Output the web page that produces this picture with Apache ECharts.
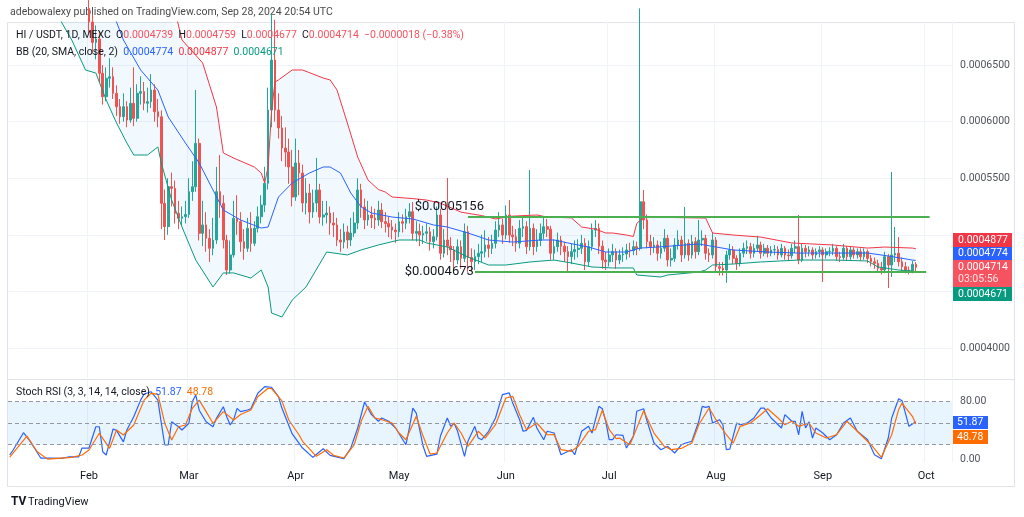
<!DOCTYPE html>
<html lang="en">
<head>
<meta charset="UTF-8">
<title>HI / USDT, 1D, MEXC</title>
<script src="https://cdn.jsdelivr.net/npm/echarts@6/dist/echarts.min.js"></script>
<style>
  html, body { margin: 0; padding: 0; background: #fff; }
  #main { width: 1024px; height: 517px; }
</style>
</head>
<body>
<div id="main"></div>
<script>
// axis: one category per day, 2024-01-09 .. 2024-10-08
var firstDay = Date.UTC(2024, 0, 9);
var dayCount = 274;
var monthNames = ['Jan', 'Feb', 'Mar', 'Apr', 'May', 'Jun', 'Jul', 'Aug', 'Sep', 'Oct', 'Nov', 'Dec'];

// price ticks (x1e-7)
var priceTicks = [4000, 4500, 5000, 5500, 6000, 6500];
var priceLabels = [4000, 5500, 6000, 6500];
var stochLabels = [0, 80];
var stochBands = [20, 50, 80];

// daily candles [open, close, low, high], price x1e-7
var ohlc = [
  [8800,8600,8400,9100],[8600,8400,8200,8800],[8400,8900,8300,9200],[8900,8500,8300,9000],[8500,8200,8000,8600],
  [8200,8000,7800,8400],[8000,7800,7600,8100],[7800,8100,7700,8300],[8100,7900,7700,8200],[7900,7600,7500,8000],
  [7600,7700,7450,7900],[7700,7400,7300,7800],[7400,7300,7100,7500],[7300,7500,7200,7700],[7500,7200,7050,7600],
  [7200,7100,7000,7400],[7100,7300,7050,7450],[7300,7000,6950,7350],[7000,6950,6900,7150],[6950,7100,6920,7250],
  [7100,6900,6900,7200],[6900,7050,6890,7150],[7050,7000,6900,7200],[7000,6880,6780,7100],[6880,6700,6600,6950],
  [6700,6730,6550,6850],[6730,6427,6350,6800],[6427,6220,6150,6500],[6220,6383,6180,6480],[6383,6397,6300,6560],
  [6397,6250,6200,6480],[6250,6132,6050,6320],[6132,6043,5980,6200],[6043,6132,6000,6250],[6132,6014,5950,6180],
  [6014,6162,5990,6300],[6162,6029,5960,6480],[6029,6250,6000,6330],[6250,6265,6150,6400],[6265,6162,6100,6350],
  [6162,6176,6080,6300],[6176,6279,6120,6420],[6279,6087,6000,6330],[6087,6043,5950,6200],[6043,5278,5050,6100],
  [5278,5072,4954,5400],[5072,5425,5000,5500],[5425,5410,5250,5550],[5410,5190,5100,5480],[5190,5146,5050,5300],
  [5146,5160,5080,5250],[5160,5180,5100,5300],[5180,5381,5150,5500],[5381,5425,5300,5650],[5425,5808,5380,6279],
  [5808,5013,4950,5850],[5013,5087,4900,5300],[5087,4969,4850,5200],[4969,4881,4760,5050],[4881,4954,4820,5150],
  [4954,5381,4920,5600],[5381,5278,5150,5705],[5278,4954,4880,5350],[4954,4689,4645,5000],[4689,4822,4660,4950],
  [4822,5146,4800,5300],[5146,5116,5000,5350],[5116,4939,4850,5200],[4939,4881,4780,5050],[4881,5057,4850,5150],
  [5057,4925,4850,5200],[4925,5057,4900,5120],[5057,5160,5020,5250],[5160,5263,5100,5350],[5263,5455,5200,5600],
  [5455,6102,5400,6300],[6102,6544,5950,6950],[6544,6102,6000,6900],[6102,5944,5850,6250],[5944,5767,5650,6050],
  [5767,5731,5600,5950],[5731,5599,5450,5850],[5599,5334,5250,5750],[5334,5634,5300,5850],[5634,5546,5350,5750],
  [5546,5281,5200,5620],[5281,5369,5180,5500],[5369,5201,5100,5450],[5201,5281,5150,5400],[5281,5396,5200,5680],
  [5396,5157,5100,5450],[5157,5175,5080,5300],[5175,5192,5100,5300],[5192,5104,5000,5250],[5104,5087,4980,5200],
  [5087,4954,4900,5150],[4954,4936,4850,5050],[4936,5025,4880,5100],[5025,4954,4880,5080],[4954,5016,4900,5150],
  [5016,5104,4980,5200],[5104,5396,5050,5500],[5396,5246,5150,5450],[5246,5131,5050,5320],[5131,5175,5080,5300],
  [5175,5148,5060,5250],[5148,5131,5050,5230],[5131,5219,5080,5300],[5219,5116,5060,5280],[5116,5100,5020,5200],
  [5100,5070,4980,5160],[5070,5042,4960,5130],[5042,5027,4930,5100],[5027,5116,4980,5200],[5116,5102,5020,5180],
  [5102,5160,5050,5230],[5160,5204,5100,5280],[5204,5013,4950,5290],[5013,5030,4940,5120],[5030,4998,4900,5100],
  [4998,5013,4920,5080],[5013,5027,4940,5100],[5027,4939,4860,5070],[4939,4983,4880,5050],[4983,5175,4950,5250],
  [5175,4837,4780,5230],[4837,4954,4800,5050],[4954,4900,4820,5502],[4900,4866,4760,4980],[4866,4777,4700,4900],
  [4777,4895,4740,4960],[4895,4792,4700,4950],[4792,5027,4760,5100],[5027,4800,4673,5080],[4800,4762,4680,4880],
  [4762,4807,4690,4870],[4807,4837,4740,4920],[4837,4851,4760,5000],[4851,4910,4800,5040],[4910,4880,4800,4980],
  [4880,4925,4830,5000],[4925,5042,4880,5120],[5042,5087,4980,5200],[5087,4998,4920,5140],[4998,5175,4960,5260],
  [5175,4998,4930,5307],[4998,4983,4900,5080],[4983,4925,4850,5050],[4925,5057,4880,5130],[5057,5072,4980,5160],
  [5072,4895,4830,5120],[4895,5057,4860,5572],[5057,4895,4820,5100],[4895,4950,4850,5050],[4950,5013,4900,5100],
  [5013,5072,4960,5150],[5072,5050,4980,5140],[5050,4837,4780,5080],[4837,4895,4780,4960],[4895,4954,4850,5020],
  [4954,4900,4820,4990],[4900,4851,4760,4940],[4851,4807,4680,4900],[4807,4851,4740,4920],[4851,4870,4780,4950],
  [4870,4881,4800,4960],[4881,4925,4830,5000],[4925,4762,4690,4970],[4762,4895,4720,4950],[4895,5042,4860,5100],
  [5042,5057,4980,5130],[5057,4900,4830,5100],[4900,4777,4700,4950],[4777,4762,4690,4850],[4762,4822,4720,4880],
  [4822,4851,4760,4920],[4851,4777,4700,4880],[4777,4822,4740,4870],[4822,4830,4760,4890],[4830,4866,4780,4920],
  [4866,4860,4800,4930],[4860,4895,4820,4950],[4895,4880,4820,4940],[4880,5292,4860,7000],[5292,5131,5050,5396],
  [5131,4939,4880,5180],[4939,4895,4820,5000],[4895,4910,4840,4980],[4910,4837,4770,4950],[4837,4881,4790,4940],
  [4881,4969,4850,5050],[4969,4777,4720,5000],[4777,4792,4720,4880],[4792,4910,4760,4970],[4910,4954,4870,5040],
  [4954,4822,4760,4990],[4822,4925,4790,5246],[4925,4822,4770,4960],[4822,4939,4790,5000],[4939,4851,4790,4980],
  [4851,4954,4820,5131],[4954,4969,4900,5040],[4969,4837,4780,5000],[4837,4822,4760,4880],[4822,4954,4790,5020],
  [4954,4718,4680,4980],[4718,4704,4640,4760],[4704,4689,4640,4760],[4689,4822,4575,4860],[4822,4866,4780,4920],
  [4866,4792,4740,4900],[4792,4748,4690,4820],[4748,4837,4720,4880],[4837,4881,4800,4930],[4881,4895,4830,4950],
  [4895,4837,4790,4930],[4837,4881,4800,4920],[4881,4910,4850,4990],[4910,4837,4790,4940],[4837,4881,4810,4920],
  [4881,4837,4800,4910],[4837,4866,4810,4900],[4866,4870,4820,4910],[4870,4822,4780,4900],[4822,4881,4800,4920],
  [4881,4822,4780,4900],[4822,4815,4770,4870],[4815,4881,4790,4920],[4881,4895,4840,4950],[4895,4777,4740,5175],
  [4777,4881,4760,4920],[4881,4851,4800,4910],[4851,4866,4810,4900],[4866,4822,4780,4890],[4822,4851,4790,4880],
  [4851,4866,4800,4900],[4866,4822,4583,4890],[4822,4851,4790,4880],[4851,4855,4810,4890],[4855,4881,4820,4920],
  [4881,4807,4770,4900],[4807,4800,4760,4850],[4800,4881,4780,4920],[4881,4807,4770,4900],[4807,4866,4780,4900],
  [4866,4822,4790,4890],[4822,4851,4790,4880],[4851,4807,4770,4880],[4807,4851,4780,4880],[4851,4792,4750,4870],
  [4792,4762,4720,4820],[4762,4748,4700,4800],[4748,4704,4670,4780],[4704,4689,4650,4760],[4689,4807,4660,4850],
  [4807,4733,4530,4830],[4733,4822,4627,5555],[4822,4837,4760,5069],[4837,4762,4720,4980],[4762,4718,4680,4800],
  [4718,4689,4660,4760],[4689,4674,4650,4720],[4674,4739,4660,4770],[4739,4714,4677,4759]
];

// Bollinger bands: [day index, price x1e-7]
var bbUpper = [
  [20,9500],[40,7600],[47,7100],[50,6721],[56,6518],[60,6129],[62,5723],[65,5678],[71,5599],[73,5546],
  [74,5458],[75,5600],[76,6100],[77,6350],[78,6368],[82,6456],[85,6456],[91,6385],[93,6368],[95,6279],
  [98,5988],[101,5687],[104,5484],[107,5400],[109,5378],[111,5334],[117,5320],[121,5307],[125,5280],[131,5200],
  [137,5170],[141,5140],[146,5165],[153,5175],[156,5157],[163,5150],[166,5069],[170,5050],[173,5016],[175,5016],
  [179,4998],[181,4985],[182,5100],[184,5157],[202,5148],[204,5016],[210,4998],[218,4980],[227,4928],[239,4910],
  [249,4883],[254,4892],[262,4883],[263,4877]
];
var bbBasis = [
  [25,7300],[31,6880],[33,6721],[38,6456],[43,6279],[46,6041],[51,5811],[55,5634],[59,5396],[62,5219],
  [67,5131],[73,5060],[75,5069],[78,5334],[82,5458],[87,5546],[91,5599],[93,5599],[96,5546],[99,5369],
  [102,5246],[105,5193],[111,5157],[117,5140],[123,5087],[127,5069],[133,5016],[139,4954],[146,4936],[154,4954],
  [158,4954],[162,4928],[168,4892],[173,4848],[179,4848],[183,4883],[188,4892],[200,4919],[210,4866],[220,4848],
  [229,4839],[249,4839],[255,4813],[262,4777],[263,4774]
];
var bbLower = [
  [10,7300],[15,6880],[18,6721],[22,6456],[25,6429],[28,6191],[31,5988],[34,5811],[36,5705],[40,5705],
  [43,5776],[44,5634],[47,5307],[50,5069],[54,4777],[59,4539],[62,4663],[65,4663],[70,4618],[73,4689],
  [75,4539],[76,4309],[79,4274],[82,4424],[86,4539],[92,4848],[98,4822],[102,4866],[107,4910],[113,4954],
  [119,4954],[121,4928],[127,4892],[130,4848],[133,4804],[139,4733],[144,4733],[151,4760],[158,4777],[163,4751],
  [169,4716],[175,4707],[181,4707],[182,4645],[189,4627],[191,4645],[200,4671],[202,4689],[204,4733],[210,4742],
  [218,4760],[229,4777],[239,4777],[249,4769],[252,4716],[258,4689],[262,4680],[263,4671]
];

// Stoch RSI %K / %D: [day index, value]
var stochK = [
  [0,5.7],[1,12.7],[4,36.7],[6,24.2],[9,1.5],[12,1.5],[15,1],[17,3],[20,3],[21,15.4],[23,15.4],[25,45],[26,45],
  [27,10.3],[28,5.7],[30,41.9],[31,40],[33,24],[34,40.5],[36,59],[38,82],[39,90.5],[41,93.7],[43,82],[44,50],
  [45,19.6],[46,19.6],[47,52],[49,45],[50,40.5],[52,49.8],[53,80],[54,89],[55,68],[57,52],[59,45],[60,56.7],
  [62,72.9],[63,59],[64,47.4],[65,55],[66,70.6],[67,66],[69,68.3],[70,70],[72,91.5],[74,100.7],[76,99.9],[78,86.8],
  [79,71],[80,59],[82,35],[84,22],[85,15.4],[88,2.5],[91,14.5],[93,5.3],[97,0.6],[99,15.4],[101,43.3],[103,79.4],
  [105,61.8],[107,52.6],[108,57.2],[110,52.6],[112,43.3],[115,20],[116,43.3],[117,71],[118,64],[120,17.8],[121,3.9],
  [124,7],[125,31.7],[127,57.2],[128,45.6],[129,50],[130,38.7],[132,3.9],[133,24.8],[135,45.6],[136,29.3],[137,27],
  [139,38.7],[141,57.2],[143,89.6],[145,92],[146,78],[148,54.8],[149,38.7],[150,40],[152,58.1],[153,43.3],[155,27],
  [156,38.7],[158,36.3],[160,6.1],[163,13.1],[164,6.1],[166,38.7],[168,45.6],[169,36.3],[171,73.4],[172,70],
  [173,52.6],[174,27],[175,27],[176,33.9],[178,33],[179,15.4],[181,31.7],[182,66.5],[184,70],[185,52.6],[187,22.4],
  [189,13.1],[191,17.8],[193,8.5],[195,20],[196,22],[198,24.8],[200,52.6],[201,73.4],[202,72],[203,73.4],[204,50.2],
  [206,54.8],[207,47.8],[208,13.1],[209,14],[211,50.2],[212,47.8],[214,50],[216,57.2],[218,71],[219,71],[221,57.2],
  [222,52.6],[224,43.3],[225,61.8],[227,52.6],[228,52.6],[229,33.9],[230,66.5],[231,43.3],[232,52],[233,29.3],
  [234,43.3],[236,36.3],[238,27],[240,33.9],[242,50.2],[244,57.2],[246,38.7],[249,27],[251,6.1],[253,0.6],
  [255,29.3],[256,57.2],[258,84],[259,81.2],[261,45.6],[263,51.87]
];
var stochD = [
  [0,2.8],[5,32],[8,10.3],[11,0],[15,1.5],[18,2.5],[21,5.7],[23,12.7],[26,35.9],[29,15],[31,40.5],[33,33.5],
  [36,47.4],[39,82],[41,91.5],[43,90],[45,50],[47,26.6],[49,45],[51,47.4],[53,70.6],[55,82],[57,66],[59,49.8],
  [62,66],[65,54.4],[67,62],[70,68.3],[72,86.8],[75,98.5],[76,98],[79,81],[81,54.4],[84,33.5],[85,24.8],[89,3.9],
  [92,13.1],[94,5.3],[97,1.5],[100,20],[102,52.6],[104,73.4],[106,57.2],[108,54.8],[111,50.2],[113,36.3],[115,27],
  [118,59.5],[120,31.7],[122,7],[124,8.5],[127,36.3],[129,50.2],[131,36.3],[133,17.8],[136,38.7],[138,29.3],
  [141,47.8],[144,85],[146,87.3],[148,61.8],[150,40.9],[153,50.2],[156,33.9],[158,34],[160,13.1],[163,10.8],
  [165,17.8],[168,38.7],[170,40.9],[172,68],[174,40.9],[176,28.4],[177,29.3],[180,20],[182,43.3],[184,67.3],
  [187,36.3],[190,17.8],[192,13.1],[195,15],[198,22.4],[200,47.8],[203,71],[205,54.8],[208,33.9],[210,22.4],
  [212,45.6],[215,50.2],[218,61.8],[220,70],[223,57.2],[225,47.8],[227,52.6],[229,45.6],[232,50.2],[234,36.3],
  [237,29.3],[240,33.9],[243,52.6],[246,38.7],[250,20],[253,2.5],[256,33.9],[258,68.7],[259,78],[262,59.5],[263,48.78]
];

// drawn levels
var resistance = { from: 133, to: 267, price: 5156 };
var support = { from: 135, to: 266, price: 4673 };
var lastPrice = 4714;

var FONT = 'Roboto, "Noto Sans", sans-serif';
var UP = '#26a69a', DOWN = '#ef5350';
var F = '10.5px ' + FONT;

var days = [];
for (var d = 0; d < dayCount; d++) {
  days.push(new Date(firstDay + d * 86400000).toISOString().slice(0, 10));
}
function px(v) { return v / 1e7; }
function pairs(arr, scale) {
  return arr.map(function (p) { return [p[0], scale ? px(p[1]) : p[1]]; });
}
function isMonthStart(idx, val) { return val.slice(8) === '01'; }

var candleData = ohlc.map(function (r) { return [px(r[0]), px(r[1]), px(r[2]), px(r[3])]; });

var chart = echarts.init(document.getElementById('main'));

var gridLine = { show: true, interval: isMonthStart, lineStyle: { color: '#f0f3fa', width: 1 } };

var option = {
  animation: false,
  backgroundColor: '#ffffff',
  textStyle: { fontFamily: FONT },
  grid: [
    { left: 8, right: 72, top: 22, height: 356 },
    { left: 8, right: 72, top: 380, height: 82 }
  ],
  xAxis: [
    {
      type: 'category', gridIndex: 0, data: days, boundaryGap: true,
      axisLine: { show: false }, axisTick: { show: false }, axisLabel: { show: false },
      splitLine: gridLine
    },
    {
      type: 'category', gridIndex: 1, data: days, boundaryGap: true,
      axisLine: { show: false }, axisTick: { show: false },
      axisLabel: {
        interval: isMonthStart, color: '#131722', fontSize: 11, margin: 9, fontFamily: FONT,
        formatter: function (v) { return monthNames[+v.slice(5, 7) - 1]; }
      },
      splitLine: gridLine
    }
  ],
  yAxis: [
    {
      type: 'value', gridIndex: 0, position: 'right', min: 0.0003735, max: 0.000688,
      axisLine: { show: false },
      axisTick: { show: false, customValues: priceTicks.map(px) },
      axisLabel: {
        customValues: priceLabels.map(px), color: '#50535e', fontSize: 10.5, margin: 8, fontFamily: FONT,
        formatter: function (v) { return v.toFixed(7); }
      },
      splitLine: { show: true, lineStyle: { color: '#f0f3fa' } }
    },
    {
      type: 'value', gridIndex: 1, position: 'right', min: -4, max: 110,
      axisLine: { show: false },
      axisTick: { show: false, customValues: stochLabels },
      axisLabel: {
        customValues: stochLabels, color: '#50535e', fontSize: 10.5, margin: 8, fontFamily: FONT,
        formatter: function (v) { return v.toFixed(2); }
      },
      splitLine: { show: false }
    }
  ],
  series: [
    {
      // band fill between upper and lower Bollinger lines
      type: 'custom', xAxisIndex: 0, yAxisIndex: 0, silent: true, z: 1,
      data: [[0, 0]],
      renderItem: function (params, api) {
        var pts = [];
        bbUpper.forEach(function (p) { pts.push(api.coord([p[0], px(p[1])])); });
        for (var k = bbLower.length - 1; k >= 0; k--) {
          pts.push(api.coord([bbLower[k][0], px(bbLower[k][1])]));
        }
        var cs = params.coordSys;
        pts = echarts.graphic.clipPointsByRect(pts, { x: cs.x, y: cs.y, width: cs.width, height: cs.height });
        return { type: 'polygon', shape: { points: pts }, style: { fill: 'rgba(33,150,243,0.06)' } };
      }
    },
    {
      name: 'HI/USDT', type: 'candlestick', xAxisIndex: 0, yAxisIndex: 0, z: 3,
      data: candleData, barWidth: '62%', clip: true,
      itemStyle: { color: UP, color0: DOWN, borderColor: UP, borderColor0: DOWN, borderWidth: 1 },
      markLine: {
        silent: true, symbol: ['none', 'none'], label: { show: false }, animation: false,
        data: [
          { yAxis: px(lastPrice), lineStyle: { color: '#f23645', type: [1, 2], width: 1, opacity: 0.8 } },
          [{ coord: [resistance.from, px(resistance.price)] }, { coord: [resistance.to, px(resistance.price)] }],
          [{ coord: [support.from, px(support.price)] }, { coord: [support.to, px(support.price)] }]
        ],
        lineStyle: { color: '#4caf50', width: 2, type: 'solid' }
      },
      markPoint: {
        silent: true, symbol: 'circle', symbolSize: 0, animation: false,
        data: [
          {
            coord: [resistance.from, px(resistance.price)],
            label: { show: true, position: 'left', distance: 0, offset: [16, -10], formatter: '$0.0005156',
                     color: '#131722', fontSize: 13, fontFamily: FONT }
          },
          {
            coord: [support.from, px(support.price)],
            label: { show: true, position: 'left', distance: 0, offset: [-1, 0], formatter: '$0.0004673',
                     color: '#131722', fontSize: 13, fontFamily: FONT }
          }
        ]
      }
    },
    {
      name: 'Upper', type: 'line', xAxisIndex: 0, yAxisIndex: 0, data: pairs(bbUpper, true),
      symbol: 'none', z: 4, lineStyle: { color: '#f23645', width: 1 }
    },
    {
      name: 'Basis', type: 'line', xAxisIndex: 0, yAxisIndex: 0, data: pairs(bbBasis, true),
      symbol: 'none', z: 4, lineStyle: { color: '#2962ff', width: 1 }
    },
    {
      name: 'Lower', type: 'line', xAxisIndex: 0, yAxisIndex: 0, data: pairs(bbLower, true),
      symbol: 'none', z: 4, lineStyle: { color: '#089981', width: 1 }
    },
    {
      name: '%K', type: 'line', xAxisIndex: 1, yAxisIndex: 1, data: pairs(stochK, false),
      symbol: 'none', z: 4, lineStyle: { color: '#2962ff', width: 1.2 },
      markArea: {
        silent: true,
        itemStyle: { color: 'rgba(33,150,243,0.1)' },
        data: [[{ yAxis: stochBands[0] }, { yAxis: stochBands[2] }]]
      },
      markLine: {
        silent: true, symbol: ['none', 'none'], label: { show: false }, animation: false,
        lineStyle: { color: '#9598a1', type: [4, 3], width: 1 },
        data: stochBands.map(function (b) { return { yAxis: b }; })
      }
    },
    {
      name: '%D', type: 'line', xAxisIndex: 1, yAxisIndex: 1, data: pairs(stochD, false),
      symbol: 'none', z: 4, lineStyle: { color: '#ff6d00', width: 1.2 }
    }
  ],
  graphic: [
    { type: 'rect', silent: true, z: 0, shape: { x: 7.5, y: 22.5, width: 1007, height: 464 },
      style: { fill: 'none', stroke: '#e0e3eb', lineWidth: 1 } },
    { type: 'line', silent: true, shape: { x1: 8, y1: 379.5, x2: 1015, y2: 379.5 },
      style: { stroke: '#e0e3eb', lineWidth: 1 } },
    { type: 'text', left: 10, top: 7, silent: true,
      style: { text: 'adebowalexy published on TradingView.com, Sep 28, 2024 20:54 UTC',
               fill: '#4a4a4a', font: F } },
    { type: 'text', left: 16, top: 30, silent: true, z: 10,
      style: {
        text: '{l|HI / USDT, 1D, MEXC  O}{r|0.0004739}{l|  H}{r|0.0004759}{l|  L}{r|0.0004677}{l|  C}{r|0.0004714  −0.0000018 (−0.38%)}',
        font: F,
        rich: { l: { fill: '#131722', font: F }, r: { fill: '#f7525f', font: F } }
      } },
    { type: 'text', left: 16, top: 47, silent: true, z: 10,
      style: {
        text: '{l|BB (20, SMA, close, 2)  }{b|0.0004774}{r|  0.0004877}{g|  0.0004671}',
        font: F,
        rich: {
          l: { fill: '#131722', font: F }, b: { fill: '#2962ff', font: F },
          r: { fill: '#f23645', font: F }, g: { fill: '#089981', font: F }
        }
      } },
    { type: 'text', left: 16, top: 387, silent: true, z: 10,
      style: {
        text: '{l|Stoch RSI (3, 3, 14, 14, close)  }{b|51.87}{o|  48.78}',
        font: F,
        rich: {
          l: { fill: '#131722', font: F }, b: { fill: '#2962ff', font: F },
          o: { fill: '#ff6d00', font: F }
        }
      } },
    // last value tags on the price scale
    { type: 'group', left: 953, top: 233, silent: true, z: 20, children: [
      { type: 'rect', shape: { x: 0, y: 0, width: 59, height: 14 }, style: { fill: '#f23645' } },
      { type: 'text', x: 5, y: 1.5, style: { text: '0.0004877', fill: '#fff', font: F } },
      { type: 'rect', shape: { x: 0, y: 14, width: 59, height: 13 }, style: { fill: '#2962ff' } },
      { type: 'text', x: 5, y: 15, style: { text: '0.0004774', fill: '#fff', font: F } },
      { type: 'rect', shape: { x: 0, y: 27, width: 59, height: 27 }, style: { fill: '#f7525f' } },
      { type: 'text', x: 5, y: 28.5, style: { text: '0.0004714', fill: '#fff', font: F } },
      { type: 'text', x: 5, y: 41, style: { text: '03:05:56', fill: 'rgba(255,255,255,0.85)', font: F } },
      { type: 'rect', shape: { x: 0, y: 54, width: 59, height: 14 }, style: { fill: '#089981' } },
      { type: 'text', x: 5, y: 55.5, style: { text: '0.0004671', fill: '#fff', font: F } }
    ] },
    { type: 'group', left: 953, top: 416, silent: true, z: 20, children: [
      { type: 'rect', shape: { x: 0, y: 0, width: 35, height: 13 }, style: { fill: '#2962ff' } },
      { type: 'text', x: 4, y: 1, style: { text: '51.87', fill: '#fff', font: F } },
      { type: 'rect', shape: { x: 0, y: 14, width: 35, height: 14 }, style: { fill: '#ff6d00' } },
      { type: 'text', x: 4, y: 15.5, style: { text: '48.78', fill: '#fff', font: F } }
    ] },
    { type: 'text', left: 11, top: 496, silent: true,
      style: { text: 'TV', fill: '#131722', font: 'bold 12px ' + FONT } },
    { type: 'text', left: 28, top: 497, silent: true,
      style: { text: 'TradingView', fill: '#131722', font: '11px ' + FONT } }
  ]
};

chart.setOption(option);
</script>
</body>
</html>
